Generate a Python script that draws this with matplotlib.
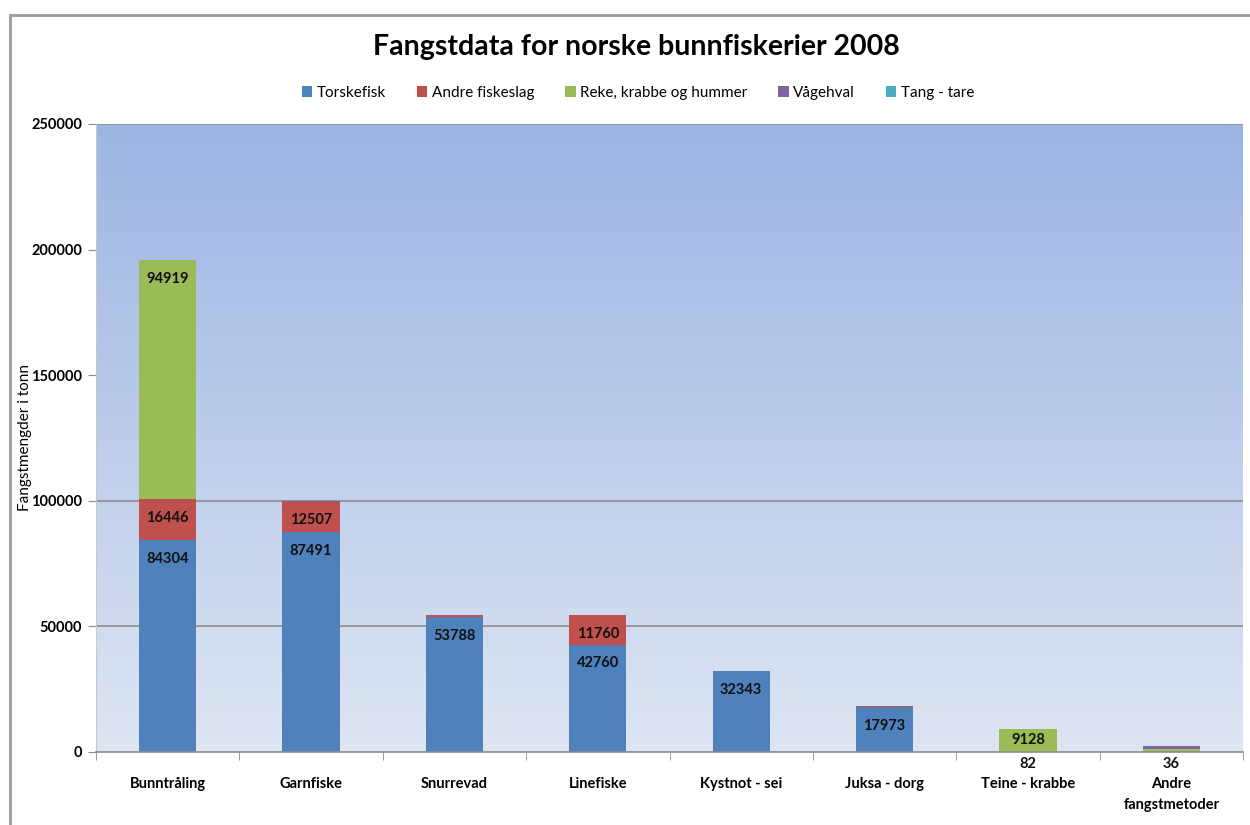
import numpy as np
import matplotlib.pyplot as plt
from matplotlib.patches import Rectangle

plt.rcParams['font.family'] = ['Lato', 'DejaVu Sans']

categories = ["Bunntråling", "Garnfiske", "Snurrevad", "Linefiske",
              "Kystnot - sei", "Juksa - dorg", "Teine - krabbe", "Andre\nfangstmetoder"]
series_names = ["Torskefisk", "Andre fiskeslag", "Reke, krabbe og hummer", "Vågehval", "Tang - tare"]
torskefisk = [84304, 87491, 53788, 42760, 32343, 17973, 82, 36]
andre_fiskeslag = [16446, 12507, 800, 11760, 0, 400, 0, 0]
reke_krabbe = [94919, 0, 0, 0, 0, 0, 9128, 1350]
vagehval = [0, 0, 0, 0, 0, 0, 0, 800]
tang_tare = [0, 350, 0, 0, 0, 0, 0, 0]
# which segments carry a value label
labelled = [
    [True] * 8,
    [True, True, False, True, False, False, False, False],
    [True, False, False, False, False, False, True, False],
    [False] * 8,
    [False] * 8,
]
colors = ["#4F81BD", "#C0504D", "#9BBB59", "#8064A2", "#4BACC6"]

fig = plt.figure(figsize=(12.5, 8.25), dpi=100)
ax = fig.add_axes([0.0768, 0.0885, 0.9176, 0.7612])

# gradient background
grad = np.linspace(0, 1, 256).reshape(-1, 1)
top_c = np.array([0x9C, 0xB5, 0xE3]) / 255
bot_c = np.array([0xDE, 0xE5, 0xF3]) / 255
img = bot_c[None, None, :] * (1 - grad[:, :, None]) + top_c[None, None, :] * grad[:, :, None]
ax.imshow(img, extent=[0, 1, 0, 1], transform=ax.transAxes, origin="lower",
          aspect="auto", zorder=0)

for g in [50000, 100000, 250000]:
    ax.axhline(g, color="#8C8C8C", lw=1.2, zorder=1)

x = np.arange(len(categories))
data = [torskefisk, andre_fiskeslag, reke_krabbe, vagehval, tang_tare]
bottom = np.zeros(len(categories))
for vals, name, col, lab in zip(data, series_names, colors, labelled):
    vals = np.array(vals, dtype=float)
    ax.bar(x, vals, 0.4, bottom=bottom, color=col, label=name, zorder=2)
    for i, v in enumerate(vals):
        if lab[i]:
            top = bottom[i] + v
            if v > 10000:
                off = 7500
            elif v < 1000:
                off = 5000
            else:
                off = v / 2
            ax.text(x[i], top - off, str(int(v)), ha="center", va="center",
                    fontsize=10.5, fontweight="bold", color="#111111", zorder=5,
                    clip_on=False)
    bottom += vals

ax.set_xlim(-0.5, len(categories) - 0.5)
ax.set_ylim(0, 250000)
ax.set_yticks([0, 50000, 100000, 150000, 200000, 250000])
ax.set_yticklabels(["0", "50000", "100000", "150000", "200000", "250000"],
                   fontsize=10.5, fontweight="bold")
ax.set_xticks(x)
ax.set_xticklabels(categories, fontsize=10.5, fontweight="bold", linespacing=1.6)
ax.set_xticks(np.arange(-0.5, len(categories)), minor=True)
ax.tick_params(axis="x", which="major", length=0, pad=18)
ax.tick_params(axis="x", which="minor", length=6, color="#8C8C8C")
ax.tick_params(axis="y", length=6, color="#8C8C8C", pad=4)
for s in ["top", "right"]:
    ax.spines[s].set_visible(False)
ax.spines["left"].set_color("#C8C8C8")
ax.spines["bottom"].set_color("#8C8C8C")
ax.spines["bottom"].set_linewidth(1.2)

ax.set_ylabel("Fangstmengder i tonn", fontsize=11)
ax.yaxis.set_label_coords(-0.056, 0.5)

fig.text(0.509, 0.943, "Fangstdata for norske bunnfiskerier 2008",
         ha="center", va="center", fontsize=20.5, fontweight="bold")
ax.legend(loc="center", bbox_to_anchor=(0.4725, 1.05), ncol=5, frameon=False,
          fontsize=11, handlelength=0.7, handleheight=0.7, columnspacing=2.0,
          handletextpad=0.3)

fig.patches.append(Rectangle((0.008, -0.1), 1.1, 1.082, transform=fig.transFigure,
                             fill=False, edgecolor="#9A9A9A", lw=2))

fig.savefig("out.png", dpi=100)
